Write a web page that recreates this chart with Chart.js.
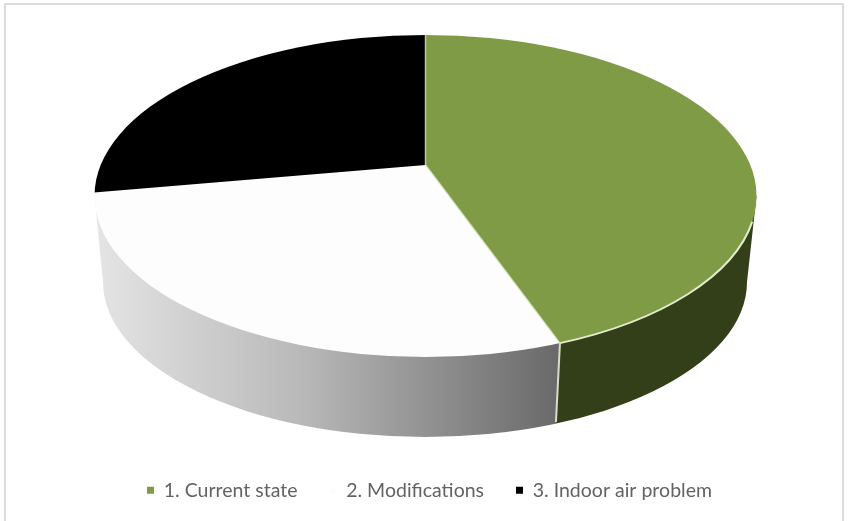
<!DOCTYPE html>
<html>
<head>
<meta charset="utf-8">
<style>
html, body { margin: 0; padding: 0; background: #fff; overflow: hidden; }
canvas { display: block; filter: blur(0.5px); }
</style>
<script src="https://cdn.jsdelivr.net/npm/chart.js@4"></script>
</head>
<body>
<canvas id="mycanvas" width="848" height="521"></canvas>
<script>
var categories = ['1. Current state', '2. Modifications', '3. Indoor air problem'];
var values = [44.4, 27.9, 27.7];
var sliceColors = ['#7f9b45', '#fdfdfd', '#000000'];

// top face of the disc, and where the slices meet (perspective: not the ellipse centre)
var top3d = { x: 425.5, y: 196, rx: 331, ry: 161, apexY: 165 };
var bottom3d = { x: 425, y: 282, rx: 322, ry: 155 };

function edgePoint(angle) {
	var o = (top3d.apexY - top3d.y) / top3d.ry;
	var s = Math.sin(angle);
	var u = -o * s + Math.sqrt(o * o * s * s - o * o + 1);
	return {
		x: top3d.x + u * top3d.rx * Math.cos(angle),
		y: top3d.apexY + u * top3d.ry * s
	};
}

function wallPath(ctx) {
	ctx.beginPath();
	ctx.moveTo(top3d.x - top3d.rx, top3d.y);
	ctx.lineTo(bottom3d.x - bottom3d.rx, bottom3d.y);
	ctx.ellipse(bottom3d.x, bottom3d.y, bottom3d.rx, bottom3d.ry, 0, Math.PI, 0, true);
	ctx.lineTo(top3d.x + top3d.rx, top3d.y);
	ctx.closePath();
}

var disc3d = {
	id: 'disc3d',
	beforeDraw: function(chart) {
		var ctx = chart.ctx;
		ctx.save();
		ctx.strokeStyle = '#dcdcdc';
		ctx.lineWidth = 2;
		ctx.strokeRect(5, 4, 838, 530);
		ctx.restore();
	},
	beforeDatasetsDraw: function(chart) {
		var ctx = chart.ctx;
		var arc = chart.getDatasetMeta(0).data[0];
		var p = edgePoint(arc.endAngle);
		var footX = p.x - 4, footY = p.y + 79;

		// grey wall under the white slice
		ctx.save();
		ctx.beginPath();
		ctx.moveTo(0, 0);
		ctx.lineTo(p.x, 0);
		ctx.lineTo(p.x, p.y);
		ctx.lineTo(footX, footY);
		ctx.lineTo(footX, 521);
		ctx.lineTo(0, 521);
		ctx.closePath();
		ctx.clip();
		var grey = ctx.createLinearGradient(98, 0, footX, 0);
		grey.addColorStop(0, '#e4e4e4');
		grey.addColorStop(0.45, '#b8b8b8');
		grey.addColorStop(1, '#6a6a6a');
		wallPath(ctx);
		ctx.fillStyle = grey;
		ctx.fill();
		ctx.restore();

		// dark wall under the green slice
		ctx.save();
		ctx.beginPath();
		ctx.moveTo(848, 0);
		ctx.lineTo(p.x, 0);
		ctx.lineTo(p.x, p.y);
		ctx.lineTo(footX, footY);
		ctx.lineTo(footX, 521);
		ctx.lineTo(848, 521);
		ctx.closePath();
		ctx.clip();
		wallPath(ctx);
		ctx.fillStyle = '#323f19';
		ctx.fill();
		ctx.restore();

		// light edge between the two walls
		ctx.strokeStyle = '#d8dccb';
		ctx.lineWidth = 2;
		ctx.beginPath();
		ctx.moveTo(p.x, p.y);
		ctx.lineTo(footX, footY);
		ctx.stroke();

		// squash the pie onto the top face
		var s = 420 / arc.outerRadius;
		var k = top3d.ry / top3d.rx;
		ctx.save();
		ctx.beginPath();
		ctx.ellipse(top3d.x, top3d.y, top3d.rx, top3d.ry, 0, 0, Math.PI * 2);
		ctx.clip();
		ctx.translate(top3d.x, top3d.apexY);
		ctx.scale(s, s * k);
		ctx.translate(-arc.x, -arc.y);
	},
	afterDatasetsDraw: function(chart) {
		var ctx = chart.ctx;
		ctx.restore();
		var arc = chart.getDatasetMeta(0).data[0];
		var start = edgePoint(arc.startAngle);
		var end = edgePoint(arc.endAngle);

		ctx.save();
		ctx.strokeStyle = 'rgba(225,232,205,0.75)';
		ctx.lineWidth = 1.5;
		ctx.beginPath();
		ctx.moveTo(start.x, start.y);
		ctx.lineTo(top3d.x, top3d.apexY);
		ctx.lineTo(end.x, end.y);
		ctx.stroke();

		// bright rim along the front of the green slice
		ctx.strokeStyle = '#e3ebcf';
		ctx.lineWidth = 2;
		ctx.beginPath();
		ctx.ellipse(top3d.x, top3d.y, top3d.rx, top3d.ry, 0, 0.16, Math.atan2((end.y - top3d.y) / top3d.ry, (end.x - top3d.x) / top3d.rx));
		ctx.stroke();
		ctx.restore();
	}
};

var ctx = document.getElementById('mycanvas');

var pieChart = new Chart(ctx, {
	type: 'pie',
	data: {
		labels: categories,
		datasets: [
			{
				data: values,
				backgroundColor: sliceColors,
				borderWidth: 0
			}
		]
	},
	options: {
		responsive: false,
		animation: false,
		events: [],
		layout: { padding: { left: 11, bottom: 11 } },
		plugins: {
			tooltip: { enabled: false },
			legend: {
				position: 'bottom',
				labels: {
					usePointStyle: true,
					pointStyle: 'rect',
					boxWidth: 7,
					boxHeight: 7,
					padding: 32,
					color: '#636363',
					font: { family: 'Lato', size: 19.5 }
				}
			}
		}
	},
	plugins: [disc3d]
});
</script>
</body>
</html>
